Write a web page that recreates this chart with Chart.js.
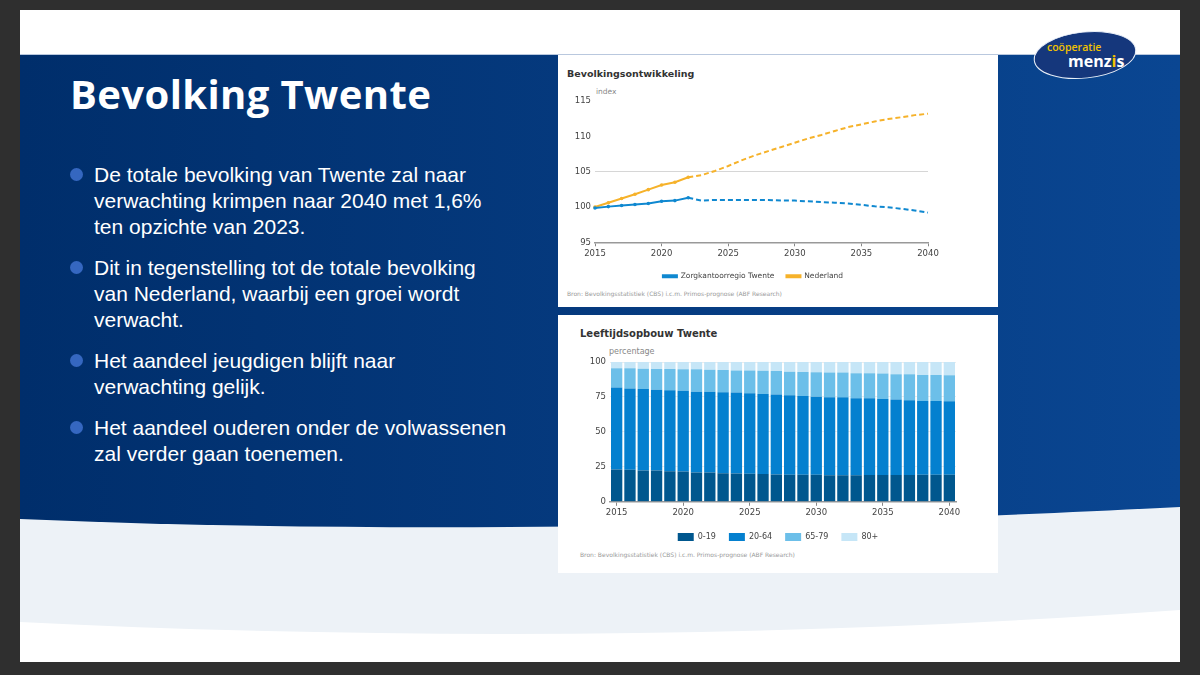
<!DOCTYPE html>
<html>
<head>
<meta charset="utf-8">
<script src="https://cdn.jsdelivr.net/npm/chart.js@4.4.1/dist/chart.umd.min.js"></script>
<style>
body{margin:0;width:1200px;height:675px;background:#2f2f2f;overflow:hidden;position:relative;font-family:"Liberation Sans",Arial,sans-serif}
#slide{position:absolute;left:20px;top:10px;width:1160px;height:652px;background:#fff;overflow:hidden}
#bg{position:absolute;left:0;top:0}
.panel{position:absolute;background:#fff}
#title{position:absolute;left:70px;top:66px;font-family:"Open Sans",sans-serif;font-weight:700;font-size:40px;letter-spacing:0.4px;color:#fff;line-height:56px;white-space:nowrap}
#bullets{position:absolute;left:70px;top:162px;width:490px;color:#fff;font-size:21px;line-height:26px}
#bullets p{margin:0 0 15px 0;padding-left:24px;position:relative;white-space:nowrap}
#bullets p:before{content:"";position:absolute;left:0;top:6px;width:13px;height:13px;border-radius:50%;background:#3567c0}
.ctitle{position:absolute;font-family:"DejaVu Sans",sans-serif;font-weight:bold;font-size:9.5px;color:#333;white-space:nowrap}
.unit{position:absolute;font-family:"DejaVu Sans",sans-serif;font-size:7.5px;color:#888;white-space:nowrap}
.src{position:absolute;font-family:"DejaVu Sans",sans-serif;font-size:6px;color:#999;white-space:nowrap}
canvas{position:absolute}
</style>
</head>
<body>
<div id="slide">
  <svg id="bg" width="1160" height="652">
    <defs>
      <linearGradient id="blue" x1="0" y1="0" x2="1" y2="0">
        <stop offset="0" stop-color="#002e6b"/>
        <stop offset="1" stop-color="#0a4692"/>
      </linearGradient>
    </defs>
    <rect x="0" y="470" width="1160" height="182" fill="#edf2f7"/>
    <path d="M0,612 C400,632 800,626 1160,600 L1160,652 L0,652 Z" fill="#fff"/>
    <path d="M0,45 H1160 V497 C900,510 450,528 0,509 Z" fill="url(#blue)"/>
    <line x1="0" y1="44.5" x2="1160" y2="44.5" stroke="#b9c8de" stroke-width="1"/>
  </svg>
</div>

<div id="title">Bevolking Twente</div>
<div id="bullets">
  <p>De totale bevolking van Twente zal naar<br>verwachting krimpen naar 2040 met 1,6%<br>ten opzichte van 2023.</p>
  <p>Dit in tegenstelling tot de totale bevolking<br>van Nederland, waarbij een groei wordt<br>verwacht.</p>
  <p>Het aandeel jeugdigen blijft naar<br>verwachting gelijk.</p>
  <p>Het aandeel ouderen onder de volwassenen<br>zal verder gaan toenemen.</p>
</div>

<svg style="position:absolute;left:1030px;top:28px" width="110" height="54">
  <ellipse cx="55" cy="27" rx="51" ry="23" transform="rotate(-6 55 27)" fill="#15377c" stroke="#e8eef7" stroke-width="1"/>
  <text x="17" y="23" font-family="Open Sans,sans-serif" font-size="10.5" font-weight="600" fill="#f2c200">coöperatie</text>
  <text x="38" y="39" font-family="Open Sans,sans-serif" font-size="16" font-weight="700" fill="#fff">menz<tspan fill="#f2c200">i</tspan>s</text>
</svg>

<div class="panel" style="left:558px;top:55px;width:440px;height:252px"></div>
<div class="panel" style="left:558px;top:315px;width:440px;height:258px"></div>

<div class="ctitle" style="left:567px;top:68px">Bevolkingsontwikkeling</div>
<div class="unit" style="left:596px;top:87px">index</div>
<canvas id="lineChart" width="440" height="235" style="left:558px;top:55px"></canvas>
<div class="src" style="left:567px;top:290px">Bron: Bevolkingsstatistiek (CBS) i.c.m. Primos-prognose (ABF Research)</div>

<div class="ctitle" style="left:580px;top:328px;font-size:10px">Leeftijdsopbouw Twente</div>
<div class="unit" style="left:609px;top:347px;font-size:8px">percentage</div>
<canvas id="barChart" width="440" height="236" style="left:558px;top:315px"></canvas>
<div class="src" style="left:580px;top:551px">Bron: Bevolkingsstatistiek (CBS) i.c.m. Primos-prognose (ABF Research)</div>

<script>
// jaren (x-as)
const years = ['2015','2016','2017','2018','2019','2020','2021','2022','2023','2024','2025','2026','2027',
               '2028','2029','2030','2031','2032','2033','2034','2035','2036','2037','2038','2039','2040'];

// index, 2015 = 100 (t/m 2022 waarneming, daarna prognose)
const twente    = [99.85,100.05,100.2,100.35,100.5,100.8,100.9,101.3,100.9,101.0,101.0,101.0,101.0,
                   101.0,100.9,100.9,100.8,100.7,100.6,100.5,100.3,100.1,99.95,99.75,99.5,99.2];
const nederland = [100.0,100.6,101.2,101.8,102.45,103.1,103.5,104.2,104.5,105.1,105.8,106.6,107.3,
                   107.9,108.5,109.1,109.7,110.2,110.75,111.3,111.7,112.1,112.45,112.7,113.0,113.2];
const lastObserved = 7; // 2022

// leeftijdsopbouw in procenten
const ageLabels = ['0-19','20-64','65-79','80+'];
const age0_19  = [23.1,22.9,22.4,22.4,21.9,21.7,21.0,21.0,20.5,20.2,20.0,19.8,19.5,
                  19.3,19.3,19.3,19.0,19.0,19.0,19.2,19.2,19.2,19.2,19.3,19.3,19.3];
const age20_64 = [58.6,58.1,58.3,57.8,57.9,57.8,57.8,57.8,57.8,57.9,57.6,57.3,57.2,
                  56.9,56.4,55.9,55.8,55.8,55.0,54.8,54.4,53.9,53.4,52.8,52.8,52.6];
const age65_79 = [13.8,14.5,14.5,14.8,15.2,15.3,16.0,15.7,16.0,15.9,16.4,16.7,16.9,
                  16.9,17.2,17.4,17.6,17.6,17.9,17.9,18.1,18.1,18.6,18.6,18.6,18.6];
const age80    = [4.5,4.5,4.8,5.0,5.0,5.2,5.2,5.5,5.7,6.0,6.0,6.2,6.4,
                  6.9,7.1,7.4,7.6,7.6,8.1,8.1,8.3,8.8,8.8,9.3,9.3,9.5];

const ageColors = ['#00578e','#0480cf','#6cbfe9','#c6e6f7'];

const tickFont = {family:'DejaVu Sans', size:8.5};
const every5 = (i) => Number(years[i]) % 5 === 0;

// lege as rechts, zodat de legenda over de hele breedte gecentreerd wordt
function spacer(w){
    return { position: 'right', display: true, ticks: { display: false }, grid: { display: false },
             border: { display: false }, afterFit: s => { s.width = w } }
}

function lineSet(label, values, color){
    return {
        label: label,
        data: values,
        borderColor: color,
        backgroundColor: color,
        borderWidth: 2,
        tension: 0,
        pointRadius: values.map((v,i) => i <= lastObserved ? 1.8 : 0),
        pointBorderWidth: 0,
        segment: { borderDash: c => c.p0DataIndex >= lastObserved ? [5,3] : undefined }
    }
}

new Chart(document.getElementById('lineChart'), {
    type: 'line',
    data: {
        labels: years,
        datasets: [
            lineSet('Zorgkantoorregio Twente', twente, '#0f88d0'),
            lineSet('Nederland', nederland, '#f6b22a')
        ]
    },
    options: {
        responsive: false,
        animation: false,
        layout: { padding: { top: 46, right: 50, bottom: 0, left: 0 } },
        plugins: {
            tooltip: { enabled: false },
            legend: {
                position: 'bottom',
                labels: { boxWidth: 14, boxHeight: 2, font: {family:'DejaVu Sans', size:7.5}, color: '#444', padding: 12 }
            }
        },
        scales: {
            y: {
                min: 95, max: 115,
                ticks: { stepSize: 5, font: tickFont, color: '#444', padding: 4 },
                grid: { drawTicks: false, color: c => c.tick.value === 105 ? '#d6d6d6' : 'rgba(0,0,0,0)' },
                border: { display: false },
                afterFit: s => { s.width = 37 }
            },
            yR: spacer(20),
            x: {
                ticks: { autoSkip: false, maxRotation: 0, font: tickFont, color: '#444', padding: 2,
                         callback: (v,i) => every5(i) ? years[i] : '' },
                grid: { drawOnChartArea: false, tickLength: 4, color: c => every5(c.index) ? '#888' : 'rgba(0,0,0,0)' },
                border: { color: '#999', width: 1.5 }
            }
        }
    }
});

const ageData = [age0_19, age20_64, age65_79, age80];

new Chart(document.getElementById('barChart'), {
    type: 'bar',
    data: {
        labels: years,
        datasets: ageLabels.map((l,k) => ({
            label: l,
            data: ageData[k],
            backgroundColor: ageColors[k],
            borderWidth: 0,
            barPercentage: 0.85,
            categoryPercentage: 1
        }))
    },
    options: {
        responsive: false,
        animation: false,
        layout: { padding: { top: 47, right: 0, bottom: 0, left: 0 } },
        plugins: {
            tooltip: { enabled: false },
            legend: {
                position: 'bottom',
                labels: { boxWidth: 16, boxHeight: 8, font: {family:'DejaVu Sans', size:8}, color: '#444', padding: 13 }
            }
        },
        scales: {
            y: {
                stacked: true, min: 0, max: 100,
                ticks: { stepSize: 25, font: tickFont, color: '#444', padding: 4 },
                grid: { drawTicks: false, color: '#ececec' },
                border: { display: false },
                afterFit: s => { s.width = 52 }
            },
            yR: spacer(42),
            x: {
                stacked: true,
                ticks: { autoSkip: false, maxRotation: 0, font: tickFont, color: '#444', padding: 2,
                         callback: (v,i) => every5(i) ? years[i] : '' },
                grid: { drawOnChartArea: false, offset: false, tickLength: 4, color: c => every5(c.index) ? '#888' : 'rgba(0,0,0,0)' },
                border: { color: '#999', width: 1.5 }
            }
        }
    }
});
</script>
</body>
</html>
